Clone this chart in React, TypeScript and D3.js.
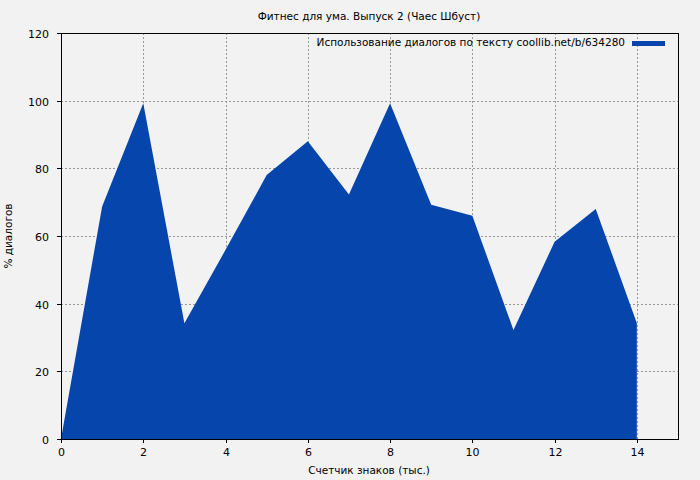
import React, { useEffect, useRef } from "react";
import * as d3 from "d3";

const xValues = [0, 1, 2, 3, 4, 5, 6, 7, 8, 9, 10, 11, 12, 13, 14];
const yValues = [0, 68.7, 99.2, 34.2, 55.9, 78, 88, 72.3, 99.2, 69.2, 66, 32.2, 58.3, 68, 34.2];
const xTicks = [0, 2, 4, 6, 8, 10, 12, 14];
const yTicks = [0, 20, 40, 60, 80, 100, 120];
const title = "Фитнес для ума. Выпуск 2 (Чаес Шбуст)";
const legendLabel = "Использование диалогов по тексту coollib.net/b/634280";
const xLabel = "Счетчик знаков (тыс.)";
const yLabel = "% диалогов";

const W = 700, H = 480;
const M = { left: 61, right: 678, top: 33, bottom: 439 };
const FONT = "DejaVu Sans, sans-serif";
const FILL = "#0646ac";
const TXT = 10.5;

export default function App() {
  const ref = useRef<SVGSVGElement>(null);
  useEffect(() => {
    const svg = d3.select(ref.current);
    svg.selectAll("*").remove();
    const x = d3.scaleLinear().domain([0, 15]).range([M.left, M.right]);
    const y = d3.scaleLinear().domain([0, 120]).range([M.bottom, M.top]);

    svg.append("rect").attr("width", W).attr("height", H).attr("fill", "#f2f2f2");

    // grid
    const g = svg.append("g").attr("stroke", "#999").attr("stroke-dasharray", "2,2").attr("stroke-width", 1);
    xTicks.filter(t => t > 0).forEach(t => {
      g.append("line").attr("x1", Math.round(x(t)) + 0.5).attr("x2", Math.round(x(t)) + 0.5)
        .attr("y1", M.top).attr("y2", M.bottom);
    });
    yTicks.filter(t => t > 0 && t < 120).forEach(t => {
      g.append("line").attr("y1", Math.round(y(t)) + 0.5).attr("y2", Math.round(y(t)) + 0.5)
        .attr("x1", M.left).attr("x2", M.right);
    });

    const data = xValues.map((v, i) => ({ x: v, y: yValues[i] }));
    const area = d3.area<{ x: number; y: number }>().x(d => x(d.x)).y0(y(0)).y1(d => y(d.y));
    svg.append("path").datum(data).attr("d", area).attr("fill", FILL);

    // frame
    svg.append("rect").attr("x", M.left + 0.5).attr("y", M.top + 0.5)
      .attr("width", M.right - M.left).attr("height", M.bottom - M.top)
      .attr("fill", "none").attr("stroke", "#000").attr("stroke-width", 1);

    // ticks
    const tk = svg.append("g").attr("stroke", "#000");
    xTicks.forEach(t => {
      const px = Math.round(x(t)) + 0.5;
      tk.append("line").attr("x1", px).attr("x2", px).attr("y1", M.bottom).attr("y2", M.bottom + 4);
      svg.append("text").attr("x", px).attr("y", M.bottom + 17).attr("text-anchor", "middle")
        .attr("font-family", FONT).attr("font-size", 11).attr("fill", "#000").text(String(t));
    });
    yTicks.forEach(t => {
      const py = Math.round(y(t)) + 0.5;
      tk.append("line").attr("x1", M.left - 4).attr("x2", M.left).attr("y1", py).attr("y2", py);
      svg.append("text").attr("x", M.left - 12).attr("y", py + 4).attr("text-anchor", "end")
        .attr("font-family", FONT).attr("font-size", 11).attr("fill", "#000").text(String(t));
    });

    svg.append("text").attr("x", 369).attr("y", 20).attr("text-anchor", "middle")
      .attr("font-family", FONT).attr("font-size", TXT).attr("fill", "#000").text(title);
    svg.append("text").attr("x", 369).attr("y", 474).attr("text-anchor", "middle")
      .attr("font-family", FONT).attr("font-size", TXT).attr("fill", "#000").text(xLabel);
    svg.append("text").attr("transform", `translate(12,236) rotate(-90)`).attr("text-anchor", "middle")
      .attr("font-family", FONT).attr("font-size", TXT).attr("fill", "#000").text(yLabel);

    svg.append("text").attr("x", 625).attr("y", 46).attr("text-anchor", "end")
      .attr("font-family", FONT).attr("font-size", TXT).attr("fill", "#000").text(legendLabel);
    svg.append("rect").attr("x", 632).attr("y", 41).attr("width", 33).attr("height", 5).attr("fill", FILL);
  }, []);
  return (
    <svg ref={ref} width={W} height={H} style={{ position: "absolute", left: 0, top: 0, display: "block" }} />
  );
}
